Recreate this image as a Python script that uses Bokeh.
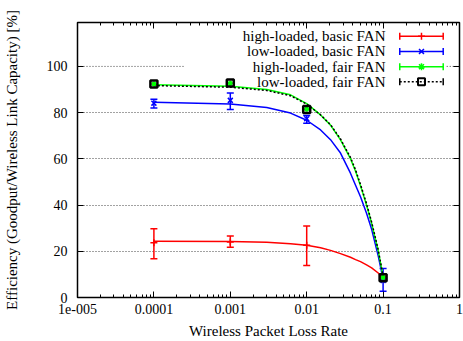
from bokeh.plotting import figure
from bokeh.models import (FixedTicker, Whisker, TeeHead, ColumnDataSource,
                          LogAxis, LinearAxis, Range1d)
from bokeh.core.properties import value
from bokeh.embed import file_html
from bokeh.resources import INLINE

# ---------------- data ----------------
loss_rates = [1e-4, 1e-3, 1e-2, 1e-1]

high_basic = [23.7, 24.0, 22.6, 8.5]
high_basic_lo = [16.8, 21.7, 13.9, 7.9]
high_basic_hi = [29.8, 26.6, 30.9, 9.1]

low_basic = [84.1, 85.3, 77.4, 7.4]
low_basic_lo = [82.0, 81.4, 75.4, 2.7]
low_basic_hi = [85.8, 88.5, 78.8, 12.5]

high_fair = [92.4, 92.7, 81.5, 8.7]
high_fair_lo = [92.1, 92.4, 81.2, 8.4]
high_fair_hi = [92.7, 93.0, 81.8, 9.0]

low_fair = [92.4, 92.8, 81.4, 8.6]

# fitted curves
curve_x = [1e-4, 1e-3, 3e-3, 6.14e-3, 1e-2, 1.52e-2, 2.05e-2, 2.77e-2, 3.74e-2,
           4.36e-2, 5.06e-2, 6.07e-2, 7.08e-2, 8.63e-2, 1e-1]
high_basic_fit = [24.3, 24.2, 23.9, 23.3, 22.6, 21.5, 20.4, 19.0, 17.4,
                  16.4, 15.5, 14.1, 12.8, 10.6, 8.5]
low_basic_fit = [84.5, 83.7, 82.2, 79.8, 76.7, 72.5, 68.3, 62.5, 53.8,
                 48.6, 43.6, 36.5, 29.5, 18.0, 8.0]
high_fair_fit = [92.1, 91.4, 90.0, 87.7, 83.9, 79.0, 74.6, 68.2, 60.1,
                 54.6, 48.3, 40.0, 32.0, 20.2, 9.0]
low_fair_fit = [91.7, 91.0, 89.6, 87.3, 83.7, 79.0, 74.8, 68.6, 60.6,
                55.2, 48.9, 40.6, 32.6, 20.7, 9.2]

x_ticks = [1e-5, 1e-4, 1e-3, 1e-2, 1e-1, 1]
x_tick_labels = ["1e-005", "0.0001", "0.001", "0.01", "0.1", "1"]
y_ticks = [0, 20, 40, 60, 80, 100]

series_names = ["high-loaded, basic FAN", "low-loaded, basic FAN",
                "high-loaded, fair FAN", "low-loaded, fair FAN"]

# ---------------- layout constants ----------------
FONT = "Liberation Serif"
RED, BLUE, GREEN, BLACK = "#ff0000", "#0000ff", "#00ff00", "#000000"
LEG_TEXT_X = 0.1074
LEG_X0, LEG_XM, LEG_X1 = 0.1652, 0.318, 0.612
LEG_ROWS = [113.0, 106.5, 99.9, 93.4]
GRID_100_LEFT = (1e-5, 2.45e-4)
GRID_100_RIGHT = (0.68, 1.0)

p = figure(width=463, height=341, x_axis_type="log",
           x_range=Range1d(1e-5, 1), y_range=Range1d(0, 119),
           output_backend="svg", toolbar_location=None,
           min_border_left=77, min_border_right=4,
           min_border_top=22, min_border_bottom=44)
p.background_fill_color = "white"
p.border_fill_color = "white"
p.outline_line_color = "black"
p.outline_line_width = 1.5

minor = [m * d for d in [1e-5, 1e-4, 1e-3, 1e-2, 1e-1] for m in range(2, 10)]
xticker = FixedTicker(ticks=x_ticks, minor_ticks=minor)
yticker = FixedTicker(ticks=y_ticks)

overrides = {t: l for t, l in zip(x_ticks, x_tick_labels)}

def style_axis(ax, labels=True):
    ax.axis_line_color = None
    ax.major_tick_in = 6
    ax.major_tick_out = 0
    ax.minor_tick_in = 3
    ax.minor_tick_out = 0
    ax.major_tick_line_color = "black"
    ax.minor_tick_line_color = "black"
    ax.major_label_text_font = FONT
    ax.major_label_text_font_style = "normal"
    ax.major_label_text_color = "black"
    ax.axis_label_text_font = FONT
    ax.axis_label_text_font_size = "15px"
    ax.axis_label_text_font_style = "normal"
    ax.axis_label_text_color = "black"
    if labels:
        ax.major_label_text_font_size = "14px"
    else:
        ax.major_label_text_font_size = "1px"
        ax.major_label_text_color = None
        ax.major_label_standoff = 0

xa = p.xaxis[0]
xa.ticker = xticker
xa.major_label_overrides = overrides
style_axis(xa)
xa.major_label_standoff = 6
xa.axis_label = "Wireless Packet Loss Rate"
xa.axis_label_standoff = 6

ya = p.yaxis[0]
ya.ticker = yticker
style_axis(ya)
ya.minor_tick_line_color = None
ya.major_label_standoff = 10
ya.axis_label = "Efficiency (Goodput/Wireless Link Capacity) [%]"
ya.axis_label_standoff = 24

top = LogAxis(ticker=xticker)
style_axis(top, labels=False)
p.add_layout(top, "above")
right = LinearAxis(ticker=yticker)
style_axis(right, labels=False)
right.minor_tick_line_color = None
p.add_layout(right, "right")

p.xgrid.visible = False
p.ygrid.ticker = FixedTicker(ticks=[20, 40, 60, 80])
p.ygrid.grid_line_color = "#444444"
p.ygrid.grid_line_dash = "1 2"
p.ygrid.grid_line_width = 1
p.segment(x0=[GRID_100_LEFT[0], GRID_100_RIGHT[0]], y0=[100, 100],
          x1=[GRID_100_LEFT[1], GRID_100_RIGHT[1]], y1=[100, 100],
          line_color="#444444", line_dash="1 2", line_width=1)

# ---------------- curves ----------------
p.line(curve_x, high_basic_fit, line_color=RED, line_width=1.5)
p.line(curve_x, low_basic_fit, line_color=BLUE, line_width=1.5)
p.line(curve_x, high_fair_fit, line_color=GREEN, line_width=1.5)
p.line(curve_x, low_fair_fit, line_color=BLACK, line_width=1.5, line_dash="2 2")

def errbars(vals, lo, hi, color, cap=7):
    src = ColumnDataSource(dict(x=loss_rates, y=vals, lo=lo, hi=hi))
    w = Whisker(source=src, base="x", lower="lo", upper="hi", dimension="height",
                line_color=color, line_width=1.5,
                upper_head=TeeHead(size=cap, line_color=color, line_width=1.5),
                lower_head=TeeHead(size=cap, line_color=color, line_width=1.5))
    p.add_layout(w)
    return src

s1 = errbars(high_basic, high_basic_lo, high_basic_hi, RED)
p.scatter("x", "y", source=s1, marker="cross", size=7, line_color=RED, line_width=1.5)
s2 = errbars(low_basic, low_basic_lo, low_basic_hi, BLUE)
p.scatter("x", "y", source=s2, marker="x", size=7, line_color=BLUE, line_width=1.5)
s3 = errbars(high_fair, high_fair_lo, high_fair_hi, GREEN, cap=4)
p.scatter("x", "y", source=s3, marker="asterisk", size=5, line_color=GREEN, line_width=1.5)
p.scatter(loss_rates, low_fair, marker="square", size=7, fill_color=None,
          line_color=BLACK, line_width=2.5)

# ---------------- legend ----------------
colors = [RED, BLUE, GREEN, BLACK]
markers = ["cross", "x", "asterisk", "square"]
dashes = ["solid", "solid", "solid", "2 2"]
p.text(x=[LEG_TEXT_X] * 4, y=LEG_ROWS, text=series_names, text_align="right",
       text_baseline="middle", text_font=value(FONT), text_font_size="15px",
       text_color="black")
for yrow, c, m, d in zip(LEG_ROWS, colors, markers, dashes):
    src = ColumnDataSource(dict(y=[yrow], x0=[LEG_X0], x1=[LEG_X1]))
    p.add_layout(Whisker(source=src, base="y", lower="x0", upper="x1",
                         dimension="width", line_color=c, line_width=1.5,
                         line_dash=d,
                         upper_head=TeeHead(size=7, line_color=c, line_width=1.5),
                         lower_head=TeeHead(size=7, line_color=c, line_width=1.5)))
    if m == "square":
        p.scatter([LEG_XM], [yrow], marker=m, size=7, fill_color=None,
                  line_color=c, line_width=2)
    else:
        p.scatter([LEG_XM], [yrow], marker=m, size=7, line_color=c, line_width=1.5)

open("out.html", "w").write(file_html(p, INLINE))
